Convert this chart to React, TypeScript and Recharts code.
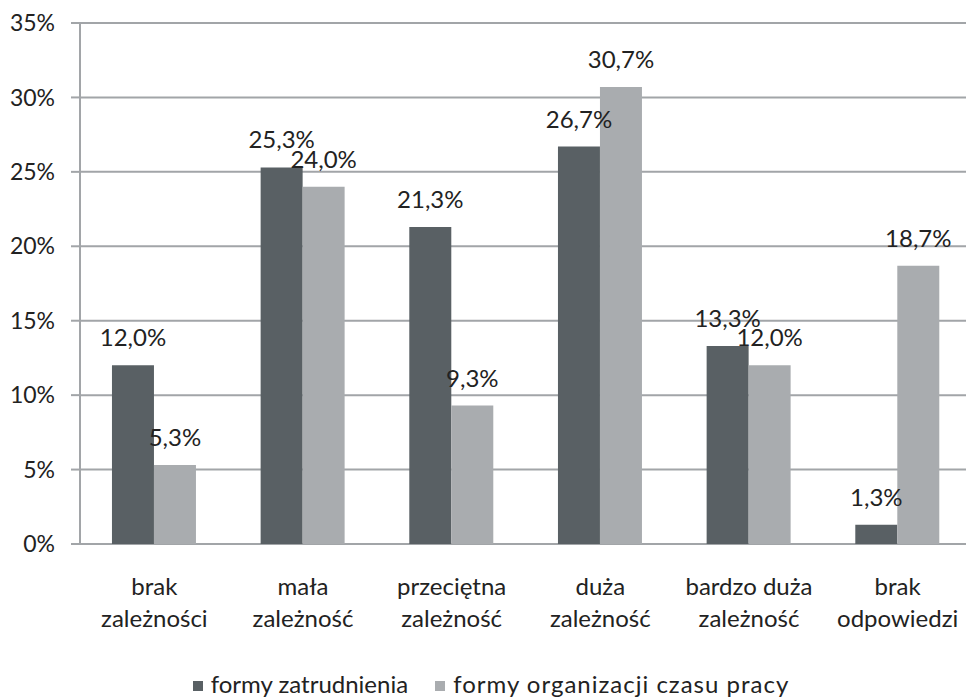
import React from "react";
import {
  BarChart,
  Bar,
  XAxis,
  YAxis,
  CartesianGrid,
  Legend,
  LabelList,
} from "recharts";

const categoriesLine1 = ["brak", "mała", "przeciętna", "duża", "bardzo duża", "brak"];
const categoriesLine2 = ["zależności", "zależność", "zależność", "zależność", "zależność", "odpowiedzi"];
const zatrudnienia = [12.0, 25.3, 21.3, 26.7, 13.3, 1.3];
const organizacji = [5.3, 24.0, 9.3, 30.7, 12.0, 18.7];
const yTicks = [0, 5, 10, 15, 20, 25, 30, 35];
const edgeTicks = [0, 1, 2, 3, 4, 5, 6];
const seriesNames = ["formy zatrudnienia", "formy organizacji czasu pracy"];

const DARK = "#596064";
const LIGHT = "#a9acaf";
const GRID = "#a2a5a8";
const TEXT = "#222222";
const FONT = "Lato, 'Open Sans', sans-serif";

const data = categoriesLine1.map((c, i) => ({
  key: String(i),
  line1: c,
  line2: categoriesLine2[i],
  a: zatrudnienia[i],
  b: organizacji[i],
}));

const fmt = (v: number) => v.toFixed(1).replace(".", ",") + "%";

const CatTick = (props: any) => {
  const { x, y, payload } = props;
  const idx = Number(payload.value);
  return (
    <g>
      <text x={x} y={y + 43} textAnchor="middle" fill={TEXT} fontSize={24} fontFamily={FONT}>
        {categoriesLine1[idx]}
      </text>
      <text x={x} y={y + 75} textAnchor="middle" fill={TEXT} fontSize={24} fontFamily={FONT}>
        {categoriesLine2[idx]}
      </text>
    </g>
  );
};

const LegendContent = () => (
  <div
    style={{
      display: "flex",
      justifyContent: "center",
      alignItems: "center",
      height: 40,
      paddingTop: 10,
      paddingLeft: 10,
      boxSizing: "border-box",
      fontFamily: FONT,
      fontSize: 24,
      lineHeight: "24px",
      color: TEXT,
    }}
  >
    <span style={{ display: "inline-block", width: 10, height: 10, background: DARK, marginRight: 8, marginTop: 4 }} />
    <span style={{ marginRight: 27 }}>{seriesNames[0]}</span>
    <span style={{ display: "inline-block", width: 10, height: 10, background: LIGHT, marginRight: 8, marginTop: 4 }} />
    <span style={{ letterSpacing: 1 }}>{seriesNames[1]}</span>
  </div>
);

export default function App() {
  return (
    <div
      style={{
        position: "absolute",
        left: 0,
        top: 0,
        width: 966,
        height: 699,
        overflow: "hidden",
        background: "#fff",
      }}
    >
      <BarChart
        width={980}
        height={699}
        data={data}
        margin={{ top: 23, right: 8, left: 0, bottom: 0 }}
        barCategoryGap="21.5%"
        barGap={0}
      >
        <CartesianGrid vertical={false} stroke={GRID} strokeWidth={2} xAxisId="cat" />
        <XAxis
          xAxisId="edges"
          type="number"
          dataKey="key"
          domain={[0, 6]}
          ticks={edgeTicks}
          tickFormatter={() => ""}
          tickSize={9}
          tickLine={{ stroke: GRID, strokeWidth: 2 }}
          axisLine={{ stroke: GRID, strokeWidth: 2 }}
          height={0}
          allowDataOverflow
        />
        <XAxis
          xAxisId="cat"
          dataKey="key"
          tick={<CatTick />}
          tickLine={false}
          axisLine={false}
          interval={0}
          height={115}
        />
        <YAxis
          width={80}
          domain={[0, 35]}
          ticks={yTicks}
          tickFormatter={(v: number) => v + "%"}
          tickSize={9}
          tickMargin={16}
          tickLine={{ stroke: GRID, strokeWidth: 2 }}
          axisLine={{ stroke: GRID, strokeWidth: 2 }}
          tick={{ fill: TEXT, fontSize: 23, fontFamily: FONT }}
        />
        <Legend verticalAlign="bottom" content={<LegendContent />} />
        <Bar dataKey="a" name={seriesNames[0]} fill={DARK} xAxisId="cat" isAnimationActive={false}>
          <LabelList dataKey="a" position="top" offset={19} formatter={(v: any) => fmt(Number(v))} fill={TEXT} fontSize={24} fontFamily={FONT} />
        </Bar>
        <Bar dataKey="b" name={seriesNames[1]} fill={LIGHT} xAxisId="cat" isAnimationActive={false}>
          <LabelList dataKey="b" position="top" offset={19} formatter={(v: any) => fmt(Number(v))} fill={TEXT} fontSize={24} fontFamily={FONT} />
        </Bar>
      </BarChart>
    </div>
  );
}
